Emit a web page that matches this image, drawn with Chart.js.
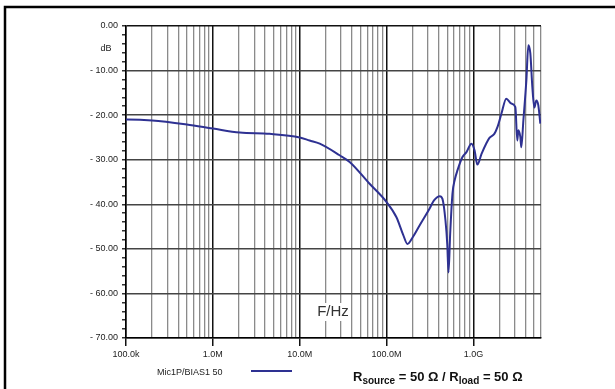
<!DOCTYPE html>
<html>
<head>
<meta charset="utf-8">
<script src="https://cdn.jsdelivr.net/npm/chart.js@4/dist/chart.umd.min.js"></script>
<style>
  html, body { margin: 0; padding: 0; background: #fff; }
  #wrap { width: 615px; height: 389px; }
</style>
</head>
<body>
<div id="wrap"><canvas id="gain-chart" width="615" height="389"></canvas></div>
<script>
// frequency sweep, Hz
const freqs = [
  1.0e5, 1.03e5, 2.0e5, 5.0e5, 1.0e6, 2.04e6, 4.5e6, 1.0e7, 1.3e7, 1.7e7,
  2.88e7, 3.76e7, 6.38e7, 1.0e8, 1.3e8, 1.55e8, 1.74e8, 2.0e8, 2.39e8, 3.12e8,
  3.5e8, 4.1e8, 4.4e8, 4.77e8, 5.0e8, 5.17e8, 5.4e8, 5.74e8, 6.1e8, 6.55e8,
  7.48e8, 8.32e8, 9.49e8, 1.03e9, 1.11e9, 1.24e9, 1.41e9, 1.53e9, 1.74e9, 1.89e9,
  2.1e9, 2.39e9, 2.73e9, 3.04e9, 3.2e9, 3.29e9, 3.47e9, 3.56e9, 3.76e9, 4.07e9,
  4.29e9, 4.52e9, 4.77e9, 5.03e9, 5.3e9, 5.59e9, 5.89e9
];
// Mic1P/BIAS1 50 response, dB
const gainDb = [
  -21.0, -21.0, -21.2, -22.1, -23.0, -23.9, -24.2, -25.0, -25.7, -26.4,
  -29.0, -30.5, -35.4, -39.5, -42.9, -46.8, -48.9, -47.4, -44.8, -41.0,
  -39.2, -38.2, -38.8, -43.7, -49.0, -55.3, -46.6, -37.6, -34.5, -32.4,
  -29.4, -28.3, -26.4, -27.9, -31.1, -28.7, -26.3, -25.1, -24.2, -22.7,
  -19.7, -16.3, -17.4, -18.2, -25.7, -23.4, -24.9, -27.2, -21.2, -12.2,
  -4.3, -6.1, -13.7, -18.3, -16.7, -17.8, -21.9
];

const decades = [1e5, 1e6, 1e7, 1e8, 1e9];
const xTickLabels = ['100.0k', '1.0M', '10.0M', '100.0M', '1.0G'];
const yTicks = [0, -10, -20, -30, -40, -50, -60, -70];

const lineColor = '#2e3192';
const textColor = '#222';
const font = 'Arial, "Liberation Sans", sans-serif';

function isDecade(v) {
  return decades.some(d => Math.abs(v / d - 1) < 1e-6);
}

function formatDb(v) {
  return v === 0 ? '0.00' : '- ' + Math.abs(v).toFixed(2);
}

// frame, unit labels and the legend row under the axis
const extras = {
  id: 'extras',
  afterDraw(chart) {
    const c = chart.ctx;
    const y = chart.scales.y;
    c.save();

    c.strokeStyle = '#000';
    c.lineWidth = 2.5;
    c.beginPath();
    c.moveTo(5, 389);
    c.lineTo(5, 7);
    c.lineTo(615, 7);
    c.stroke();

    c.fillStyle = textColor;
    c.font = '9px ' + font;
    c.textAlign = 'center';
    c.textBaseline = 'middle';
    c.fillText('dB', 106, y.getPixelForValue(-5));

    // F/Hz sits on a white patch over the grid
    c.font = '15px ' + font;
    const fw = c.measureText('F/Hz').width;
    const fx = 333, fy = 312;
    c.fillStyle = '#fff';
    c.fillRect(fx - fw / 2 - 2, fy - 9, fw + 4, 18);
    c.fillStyle = '#333';
    c.fillText('F/Hz', fx, fy);

    c.font = '9px ' + font;
    c.textAlign = 'left';
    c.fillStyle = textColor;
    c.fillText(chart.data.datasets[0].label, 157, 373);
    c.strokeStyle = lineColor;
    c.lineWidth = 2;
    c.beginPath();
    c.moveTo(251, 371);
    c.lineTo(292, 371);
    c.stroke();

    // Rsource = 50 Ω / Rload = 50 Ω with subscripts
    const parts = [
      ['R', 13, 0], ['source', 10, 3], [' = 50 \u03A9 / R', 13, 0],
      ['load', 10, 3], [' = 50 \u03A9', 13, 0]
    ];
    let x = 353;
    c.textBaseline = 'alphabetic';
    c.fillStyle = '#111';
    parts.forEach(p => {
      c.font = 'bold ' + p[1] + 'px ' + font;
      c.fillText(p[0], x, 381 + p[2]);
      x += c.measureText(p[0]).width;
    });

    c.restore();
  }
};

new Chart(document.getElementById('gain-chart').getContext('2d'), {
  type: 'line',
  data: {
    datasets: [{
      label: 'Mic1P/BIAS1 50',
      data: freqs.map((f, i) => ({ x: f, y: gainDb[i] })),
      borderColor: lineColor,
      borderWidth: 2,
      pointRadius: 0,
      cubicInterpolationMode: 'monotone',
      fill: false
    }]
  },
  options: {
    responsive: false,
    animation: false,
    events: [],
    layout: { padding: { left: 0, top: 26, right: 74, bottom: 0 } },
    plugins: { legend: { display: false }, tooltip: { enabled: false } },
    scales: {
      x: {
        type: 'logarithmic',
        min: 1e5,
        max: 6e9,
        afterFit(scale) { scale.height = 51; },
        afterBuildTicks(scale) {
          const ticks = [];
          decades.forEach(d => {
            for (let m = 1; m <= 9; m++) {
              if (d * m <= 6e9) ticks.push({ value: d * m });
            }
          });
          scale.ticks = ticks;
        },
        border: { color: '#000', width: 1.5 },
        grid: {
          color: ctx => isDecade(ctx.tick.value) ? '#111' : '#8a8a8a',
          lineWidth: ctx => isDecade(ctx.tick.value) ? 1.5 : 1.3,
          tickColor: ctx => isDecade(ctx.tick.value) ? '#111' : 'rgba(0,0,0,0)',
          tickLength: 8
        },
        ticks: {
          autoSkip: false,
          maxRotation: 0,
          padding: 3,
          color: textColor,
          font: { family: font, size: 9 },
          callback(value) {
            const i = decades.findIndex(d => Math.abs(value / d - 1) < 1e-6);
            return i >= 0 ? xTickLabels[i] : '';
          }
        }
      },
      y: {
        min: -70,
        max: 0,
        afterFit(scale) { scale.width = 126; },
        afterBuildTicks(scale) {
          const ticks = [];
          for (let v = 0; v >= -70; v -= 2) ticks.push({ value: v });
          scale.ticks = ticks;
        },
        border: { color: '#000', width: 1.5 },
        grid: {
          color: ctx => ctx.tick.value === 0 ? '#111'
            : (ctx.tick.value % 10 === 0 ? '#444' : 'rgba(0,0,0,0)'),
          lineWidth: 1.5,
          tickColor: '#333',
          tickLength: 4
        },
        ticks: {
          autoSkip: false,
          padding: 4,
          color: textColor,
          font: { family: font, size: 9 },
          callback(value) {
            return yTicks.includes(value) ? formatDb(value) : '';
          }
        }
      }
    }
  },
  plugins: [extras]
});
</script>
</body>
</html>
